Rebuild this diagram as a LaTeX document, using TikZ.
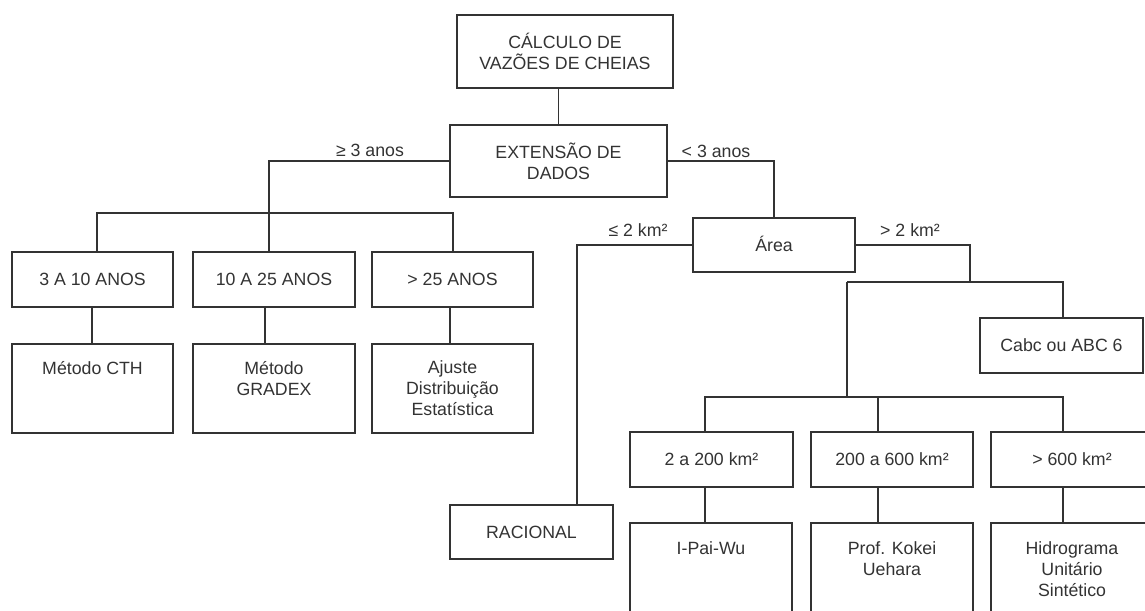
\documentclass[tikz,border=0pt]{standalone}
\usepackage{fontspec}
\setmainfont{Liberation Sans}
\begin{document}
\begin{tikzpicture}[x=0.75pt,y=-0.75pt,
  every node/.style={font=\fontsize{13.3pt}{15.8pt}\selectfont, text=black!80},
  box/.style={draw=black!80, line width=1.2pt, rectangle, inner sep=0pt, align=center},
  sbox/.style={box, minimum width=162*0.75pt, minimum height=55*0.75pt, text height=9.5pt, text depth=0pt},
  tbox/.style={box, minimum width=162*0.75pt, minimum height=89*0.75pt},
  cbox/.style={box, minimum width=162*0.75pt, minimum height=120*0.75pt},
  txt/.style={inner sep=0pt, anchor=north, align=center},
  lbl/.style={inner sep=0pt},
  wire/.style={draw=black!80, line width=1.2pt},
]
\clip (0,0) rectangle (1145,610);
\fill[white] (0,0) rectangle (1145,610);

% top
\node[box, minimum width=216*0.75pt, minimum height=73*0.75pt] (calc) at (565,51.5) {CÁLCULO DE\\VAZÕES DE CHEIAS};
\node[box, minimum width=217*0.75pt, minimum height=72*0.75pt] (ext) at (558.5,161) {EXTENSÃO DE\\DADOS};

% left branch
\node[sbox, minimum width=161*0.75pt] (a1) at (92.5,279.5) {3 A 10 ANOS};
\node[sbox] (a2) at (274,279.5) {10 A 25 ANOS};
\node[sbox, minimum width=161*0.75pt] (a3) at (452.5,279.5) {> 25 ANOS};
\node[tbox, minimum width=161*0.75pt] (m1) at (92.5,388.5) {};
\node[tbox] (m2) at (274,388.5) {};
\node[tbox, minimum width=161*0.75pt] (m3) at (452.5,388.5) {};
\node[txt] (m1t) at ([yshift=-17.5*0.75pt]m1.north) {Método CTH};
\node[txt] (m2t) at ([yshift=-17.5*0.75pt]m2.north) {Método\\GRADEX};
\node[txt] (m3t) at ([yshift=-17.5*0.75pt]m3.north) {Ajuste\\Distribuição\\Estatística};

% right branch
\node[sbox, minimum height=54*0.75pt] (area) at (774,245) {Área};
\node[sbox, minimum width=163*0.75pt, minimum height=54*0.75pt] (rac) at (531.5,532) {RACIONAL};
\node[sbox, minimum width=163*0.75pt] (cabc) at (1061.5,345.5) {Cabc ou ABC 6};
\node[sbox, minimum width=163*0.75pt] (b1) at (711.5,459.5) {2 a 200 km²};
\node[sbox] (b2) at (892,459.5) {200 a 600 km²};
\node[sbox] (b3) at (1072,459.5) {> 600 km²};
\node[cbox] (c1) at (711,583) {};
\node[cbox] (c2) at (892,583) {};
\node[cbox] (c3) at (1072,583) {};
\node[txt] (c1t) at ([yshift=-19.5*0.75pt]c1.north) {I-Pai-Wu};
\node[txt] (c2t) at ([yshift=-19.5*0.75pt]c2.north) {Prof. Kokei\\Uehara};
\node[txt] (c3t) at ([yshift=-19.5*0.75pt]c3.north) {Hidrograma\\Unitário\\Sintético};

% labels
\node[lbl] (l1) at (370,150) {≥ 3 anos};
\node[lbl] (l2) at (716,151) {< 3 anos};
\node[lbl] (l3) at (638,230) {≤ 2 km²};
\node[lbl] (l4) at (910,230) {> 2 km²};

% connectors
\draw[wire] (ext.north |- calc.south) -- (ext.north);
\coordinate (ja2) at (269,213);
\draw[wire] (ext.west) -| (ja2 |- a2.north);
\coordinate (jl1) at (97,213);
\coordinate (jl3) at (453,213);
\draw[wire] (jl1 |- a1.north) -- (jl1) -- (jl3) -- (jl3 |- a3.north);
\coordinate (jm1) at (92,320);
\coordinate (jm2) at (265,320);
\coordinate (jm3) at (450,320);
\draw[wire] (jm1 |- a1.south) -- (jm1 |- m1.north);
\draw[wire] (jm2 |- a2.south) -- (jm2 |- m2.north);
\draw[wire] (jm3 |- a3.south) -- (jm3 |- m3.north);

\draw[wire] (ext.east) -| (area.north);
\coordinate (jr) at (577,245);
\draw[wire] (area.west) -- (jr) -- (jr |- rac.north);
\coordinate (jg) at (970,282);
\draw[wire] (area.east) -| (jg);
\coordinate (jh1) at (847,282);
\coordinate (jh2) at (1063,282);
\draw[wire] (jh1) -- (jh2) -- (jh2 |- cabc.north);
\coordinate (jk) at (847,397);
\draw[wire] (jh1) -- (jk);
\coordinate (jb1) at (705,397);
\coordinate (jb2) at (878,397);
\coordinate (jb3) at (1063,397);
\draw[wire] (jb1 |- b1.north) -- (jb1) -- (jb3) -- (jb3 |- b3.north);
\draw[wire] (jb2) -- (jb2 |- b2.north);
\draw[wire] (jb1 |- b1.south) -- (jb1 |- c1.north);
\draw[wire] (jb2 |- b2.south) -- (jb2 |- c2.north);
\draw[wire] (jb3 |- b3.south) -- (jb3 |- c3.north);
\end{tikzpicture}
\end{document}
